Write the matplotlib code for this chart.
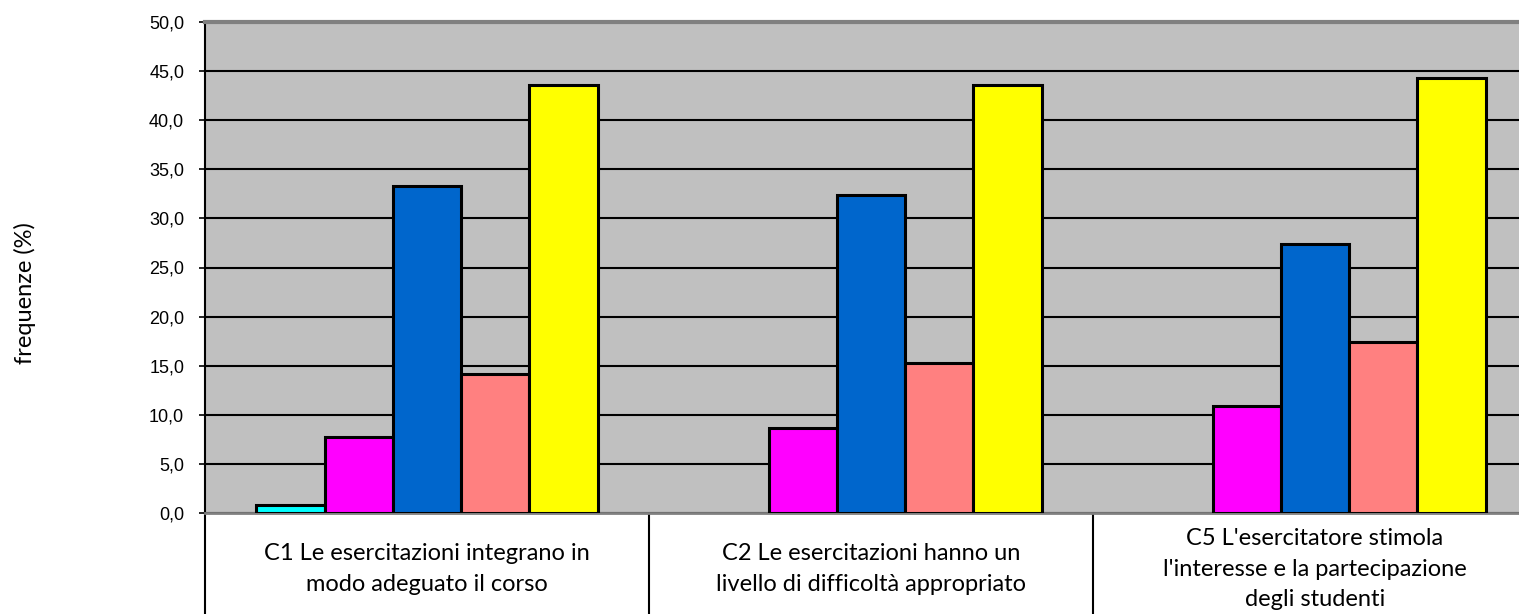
import numpy as np
import matplotlib
matplotlib.use("Agg")
import matplotlib.pyplot as plt
from matplotlib.ticker import FuncFormatter, FixedLocator

categories = ["C1 Le esercitazioni integrano in\nmodo adeguato il corso",
              "C2 Le esercitazioni hanno un\nlivello di difficoltà appropriato",
              "C5 L'esercitatore stimola\nl'interesse e la partecipazione\ndegli studenti"]

# five answer classes, one list per series (values in %)
s1 = [0.8, 0.0, 0.0]
s2 = [7.7, 8.7, 10.9]
s3 = [33.3, 32.4, 27.4]
s4 = [14.2, 15.3, 17.4]
s5 = [43.6, 43.6, 44.3]
series = [s1, s2, s3, s4, s5]
colors = ["#00FFFF", "#FF00FF", "#0066CC", "#FF8080", "#FFFF00"]

fig = plt.figure(figsize=(15.19, 6.14), dpi=100)
W, H = 1519, 614
ax = fig.add_axes([205 / W, (H - 513) / H, 1332 / W, 491 / H])
ax.set_facecolor("#C0C0C0")

nb = len(series)
bw = 1.0 / (nb + 1.5)
x = np.arange(len(categories))
for i, (vals, c) in enumerate(zip(series, colors)):
    pos = x + (i - (nb - 1) / 2) * bw
    bars = ax.bar(pos, vals, width=bw, color=c, edgecolor="black", linewidth=2.2, zorder=3)
    for b, v in zip(bars, vals):
        if v == 0:
            b.set_visible(False)

ax.set_xlim(-0.5, len(categories) - 0.5)
ax.set_ylim(0, 50)
ax.set_yticks(np.arange(0, 51, 5))
ax.yaxis.set_major_formatter(FuncFormatter(lambda v, p: f"{v:.1f}".replace(".", ",")))
ax.grid(axis="y", color="black", linewidth=1.5, zorder=1)
ax.set_axisbelow(True)

for lab in ax.get_yticklabels():
    lab.set_fontfamily("Liberation Sans")
    lab.set_fontsize(13)
ax.tick_params(axis="y", length=4, width=1.2, pad=11, colors="black")

# category labels (vertically centred like Excel) and separators
ax.set_xticks(x)
ax.set_xticklabels([])
ax.tick_params(axis="x", which="major", length=0)
trans = ax.get_xaxis_transform()
for xi, lab in zip(x, categories):
    ax.text(xi, -56 / 491, lab, transform=trans, ha="center", va="center",
            multialignment="center", fontfamily="Lato", fontsize=17,
            linespacing=1.55, clip_on=False)
ax.xaxis.set_minor_locator(FixedLocator(np.arange(-0.5, len(categories), 1.0)))
ax.tick_params(axis="x", which="minor", length=75, width=1.5, direction="out",
               color="black")

ax.spines["top"].set_color("#808080")
ax.spines["top"].set_linewidth(3)
ax.spines["bottom"].set_color("#808080")
ax.spines["bottom"].set_linewidth(2)
ax.spines["left"].set_linewidth(1.5)
ax.spines["right"].set_visible(False)

fig.text(25 / W, 1 - 293 / H, "frequenze (%)", rotation=90, ha="center", va="center",
         fontfamily="Lato", fontsize=17)

fig.savefig("out.png", dpi=100)
